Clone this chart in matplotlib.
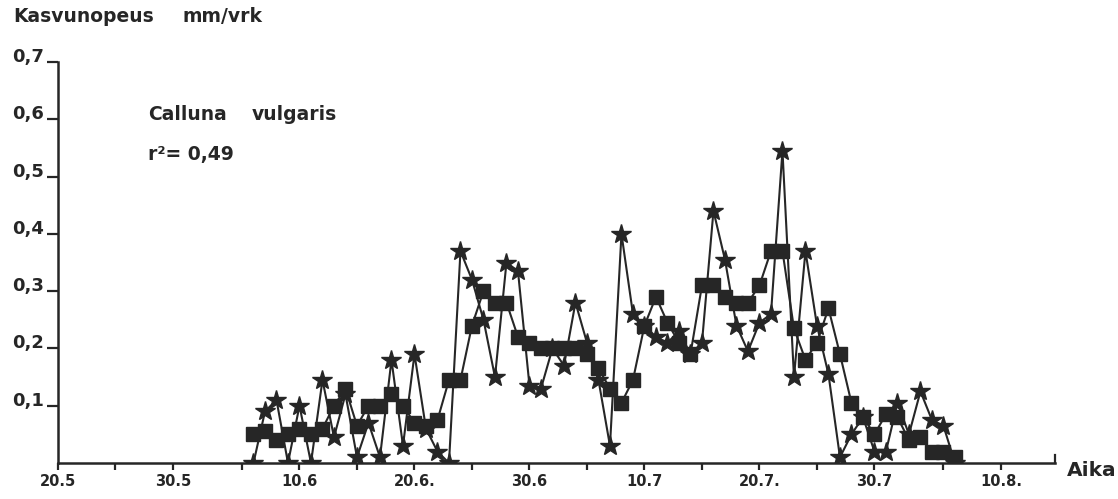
"""
Calluna vulgaris - kasvunopeus kesällä (mm/vrk)
Kaksi mittaussarjaa päivittäin 6.6.-6.8.
"""

import datetime
import matplotlib
matplotlib.use("Agg")
import matplotlib.pyplot as plt

# Päivät laskettuna 20.5. alkaen
ALKU = datetime.date(1985, 5, 20)

# Akselin merkit
tikki_pvm = [(20, 5), (30, 5), (10, 6), (20, 6), (30, 6), (10, 7), (20, 7), (30, 7), (10, 8)]
tikki_tekstit = ["20.5", "30.5", "10.6", "20.6.", "30.6", "10.7", "20.7.", "30.7", "10.8."]
pieni_tikki_pvm = [(25, 5), (5, 6), (15, 6), (25, 6), (5, 7), (15, 7), (25, 7), (5, 8)]
y_tikit = [0.1, 0.2, 0.3, 0.4, 0.5, 0.6, 0.7]
y_tekstit = ["0,1", "0,2", "0,3", "0,4", "0,5", "0,6", "0,7"]

# Mittaukset 6.6.-6.8. (tähti- ja neliösarja)
tahti = [0.00, 0.09, 0.11, 0.00, 0.10, 0.00, 0.145, 0.045, 0.12, 0.01,
         0.07, 0.01, 0.18, 0.03, 0.19, 0.06, 0.02, 0.00, 0.37, 0.32,
         0.25, 0.15, 0.35, 0.335, 0.135, 0.13, 0.20, 0.17, 0.28, 0.21,
         0.145, 0.03, 0.40, 0.26, 0.24, 0.22, 0.21, 0.23, 0.19, 0.21,
         0.44, 0.355, 0.24, 0.195, 0.245, 0.26, 0.545, 0.15, 0.37, 0.24,
         0.155, 0.01, 0.05, 0.08, 0.02, 0.02, 0.105, 0.05, 0.125, 0.075,
         0.065, 0.00]
nelio = [0.05, 0.055, 0.04, 0.05, 0.06, 0.05, 0.06, 0.10, 0.13, 0.065,
         0.10, 0.10, 0.12, 0.10, 0.07, 0.065, 0.075, 0.145, 0.145, 0.24,
         0.30, 0.28, 0.28, 0.22, 0.21, 0.20, 0.20, 0.20, 0.20, 0.19,
         0.165, 0.13, 0.105, 0.145, 0.24, 0.29, 0.245, 0.21, 0.19, 0.31,
         0.31, 0.29, 0.28, 0.28, 0.31, 0.37, 0.37, 0.235, 0.18, 0.21,
         0.27, 0.19, 0.105, 0.08, 0.05, 0.085, 0.08, 0.04, 0.045, 0.02,
         0.02, 0.01]


def paiva(d, m):
    return (datetime.date(1985, m, d) - ALKU).days


ensimmainen = paiva(6, 6)
x = [ensimmainen + i for i in range(len(tahti))]

VARI = "#262626"

fig = plt.figure(figsize=(11.18, 4.99), dpi=100)
ax = fig.add_axes([58 / 1118, 36 / 499, 997 / 1118, 401 / 499])

ax.plot(x, tahti, color=VARI, linewidth=1.5, marker="*", markersize=15,
        markerfacecolor=VARI, markeredgecolor=VARI, zorder=3)
ax.plot(x, nelio, color=VARI, linewidth=1.5, marker="s", markersize=10,
        markerfacecolor=VARI, markeredgecolor=VARI, zorder=4)

ax.set_xlim(0, 86.7)
ax.set_ylim(0, 0.7)

for s in ["top", "right"]:
    ax.spines[s].set_visible(False)
for s in ["left", "bottom"]:
    ax.spines[s].set_linewidth(1.8)
    ax.spines[s].set_color(VARI)

ax.set_xticks([paiva(d, m) for d, m in tikki_pvm])
ax.set_xticklabels(tikki_tekstit, fontsize=10.5, fontweight="bold", color=VARI)
ax.set_xticks([paiva(d, m) for d, m in pieni_tikki_pvm], minor=True)
ax.tick_params(axis="x", which="both", direction="out", length=5, width=1.6,
               color=VARI, pad=3)

ax.set_yticks(y_tikit)
ax.set_yticklabels(y_tekstit, fontsize=13, fontweight="bold", color=VARI)
ax.tick_params(axis="y", direction="out", length=8, width=1.6, color=VARI, pad=2)
for t in ax.get_yticklabels():
    t.set_verticalalignment("baseline")

# akselin pään pieni koukku
ax.plot([1, 1], [0, 0.02], transform=ax.transAxes, color=VARI, linewidth=1.6,
        clip_on=False)

fig.text(13 / 1118, 1 - 17 / 499, "Kasvunopeus", fontsize=13.5, fontweight="bold",
         color=VARI, va="center")
fig.text(183 / 1118, 1 - 17 / 499, "mm/vrk", fontsize=13.5, fontweight="bold",
         color=VARI, va="center")
fig.text(148 / 1118, 1 - 115 / 499, "Calluna", fontsize=13.5, fontweight="bold",
         color=VARI, va="center")
fig.text(252 / 1118, 1 - 115 / 499, "vulgaris", fontsize=13.5, fontweight="bold",
         color=VARI, va="center")
fig.text(148 / 1118, 1 - 160 / 499, "r²= 0,49", fontsize=13.5, fontweight="bold",
         color=VARI, va="baseline")
fig.text(1067 / 1118, 1 - 470 / 499, "Aika", fontsize=14.5, fontweight="bold",
         color=VARI, va="center")

fig.savefig("out.png", dpi=100)
plt.close(fig)
